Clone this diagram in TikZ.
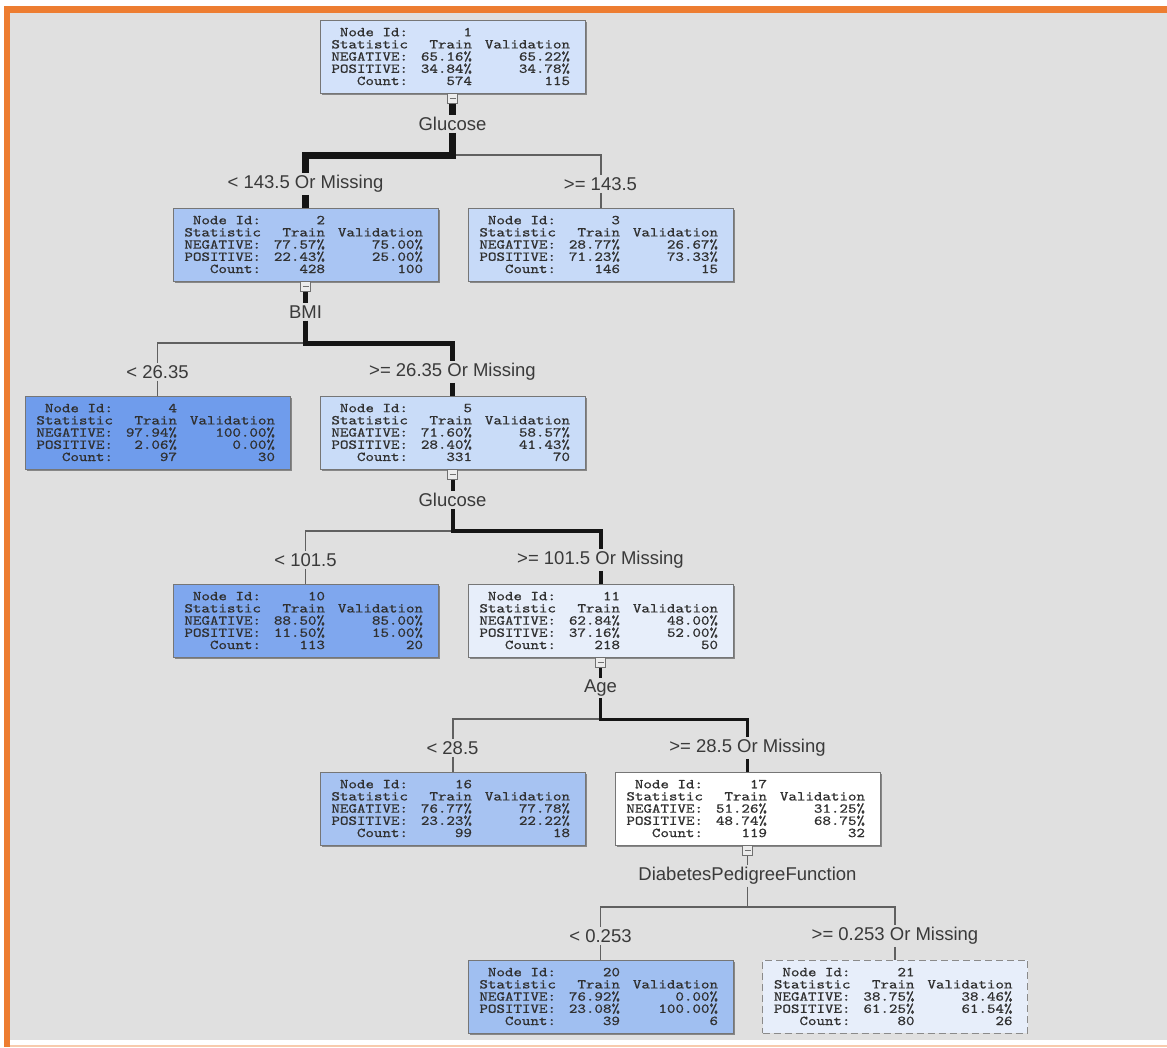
\documentclass[tikz,border=0pt]{standalone}
\usepackage{fontspec}
\setmainfont{Liberation Sans}
\newfontfamily\boxfont[Extension=.otf, FakeStretch=1.2, FakeBold=0.8]{lmmono10-regular}
\usetikzlibrary{shadows}
\definecolor{bg}{HTML}{E0E0E0}
\definecolor{frameorange}{HTML}{ED7D31}
\definecolor{boxline}{HTML}{767676}
\definecolor{dashline}{HTML}{8A8A8A}
\definecolor{boxtext}{HTML}{303030}
\definecolor{labtext}{HTML}{3A3A3A}
\definecolor{sqline}{HTML}{707070}
\definecolor{sqfill}{HTML}{ECECEC}
\definecolor{edgedark}{HTML}{151515}
\definecolor{edgelight}{HTML}{606060}
\definecolor{c1}{HTML}{D3E2FA}
\definecolor{c2}{HTML}{A9C5F3}
\definecolor{c3}{HTML}{C7DAF8}
\definecolor{c4}{HTML}{6F9CEC}
\definecolor{c5}{HTML}{C9DCF8}
\definecolor{c10}{HTML}{7FA7EE}
\definecolor{c11}{HTML}{E7EEFA}
\definecolor{c16}{HTML}{A7C3F2}
\definecolor{c17}{HTML}{FFFFFF}
\definecolor{c20}{HTML}{A0BFF1}
\definecolor{c21}{HTML}{E7EEFA}
\newcommand\tline[3]{\makebox[73pt][r]{#1}\makebox[64pt][r]{#2}\makebox[98pt][r]{#3}}
\newcommand\treebox[9]{\node[#2] (#1) {\tline{Node Id:}{#3}{}\\\tline{Statistic}{Train}{Validation}\\\tline{NEGATIVE:}{#4}{#5}\\\tline{POSITIVE:}{#6}{#7}\\\tline{Count:}{#8}{#9}};}
\tikzset{
  tbox/.style={rectangle, draw=boxline, line width=0.8pt, minimum width=265pt, minimum height=73pt, inner sep=0pt, align=left, text=boxtext, font=\boxfont\fontsize{13.5}{12.2}\selectfont},
  shbox/.style={tbox, drop shadow={shadow xshift=1.5pt, shadow yshift=-1.5pt, fill=black!70, opacity=0.6}},
  dbox/.style={tbox, dash pattern=on 7pt off 4pt, draw=dashline},
  collapse/.style={rectangle, draw=sqline, fill=sqfill, line width=0.8pt, minimum width=10pt, minimum height=10pt, inner sep=0pt, anchor=north},
  split/.style={font=\fontsize{18.5}{20}\selectfont, text=labtext, inner sep=2pt},
  branch/.style={line width=#1, draw=edgedark, line join=miter, line cap=butt},
  minorbranch/.style={line width=#1, draw=edgelight, line join=miter, line cap=butt}
}
\newcommand\collapsemark{\textcolor{sqline}{\rule{6pt}{1.2pt}}}
\begin{document}
\begin{tikzpicture}[x=1pt,y=-1pt]
\path[use as bounding box] (0,0) rectangle (1167,1047);
\fill[white] (0,0) rectangle (1167,1047);
\fill[bg] (10,13) rectangle (1167,1040);
\fill[frameorange] (4,6) rectangle (1167,13);
\fill[frameorange] (4,6) rectangle (10,1047);
\fill[frameorange!40] (10,1045) rectangle (1167,1047);

% boxes
\treebox{n1}{shbox, fill=c1, at={(452.5,56.5)}}{1}{65.16\%}{65.22\%}{34.84\%}{34.78\%}{574}{115}
\treebox{n2}{shbox, fill=c2, at={(305.5,244.5)}}{2}{77.57\%}{75.00\%}{22.43\%}{25.00\%}{428}{100}
\treebox{n3}{shbox, fill=c3, at={(600.5,244.5)}}{3}{28.77\%}{26.67\%}{71.23\%}{73.33\%}{146}{15}
\treebox{n4}{shbox, fill=c4, at={(157.5,432.5)}}{4}{97.94\%}{100.00\%}{2.06\%}{0.00\%}{97}{30}
\treebox{n5}{shbox, fill=c5, at={(452.5,432.5)}}{5}{71.60\%}{58.57\%}{28.40\%}{41.43\%}{331}{70}
\treebox{n10}{shbox, fill=c10, at={(305.5,620.5)}}{10}{88.50\%}{85.00\%}{11.50\%}{15.00\%}{113}{20}
\treebox{n11}{shbox, fill=c11, at={(600.5,620.5)}}{11}{62.84\%}{48.00\%}{37.16\%}{52.00\%}{218}{50}
\treebox{n16}{shbox, fill=c16, at={(452.5,808.5)}}{16}{76.77\%}{77.78\%}{23.23\%}{22.22\%}{99}{18}
\treebox{n17}{shbox, fill=c17, at={(747.5,808.5)}}{17}{51.26\%}{31.25\%}{48.74\%}{68.75\%}{119}{32}
\treebox{n20}{shbox, fill=c20, at={(600.5,996.5)}}{20}{76.92\%}{0.00\%}{23.08\%}{100.00\%}{39}{6}
\treebox{n21}{dbox, fill=c21, at={(895,996.5)}}{21}{38.75\%}{38.46\%}{61.25\%}{61.54\%}{80}{26}

% collapse marks
\node[collapse] (s1) at (n1.south) {\collapsemark};
\node[collapse] (s2) at (n2.south) {\collapsemark};
\node[collapse] (s5) at (n5.south) {\collapsemark};
\node[collapse] (s11) at (n11.south) {\collapsemark};
\node[collapse] (s17) at (n17.south) {\collapsemark};

% split 1
\node[split] (g1) at (452.5,124) {Glucose};
\coordinate (h1) at (452.5,155);
\node[split] (l2) at (305.5,184) {< 143.5 Or Missing};
\node[split] (l3) at (600.5,184) {>= 143.5};
\draw[minorbranch=2pt] (g1.south) -- (h1) -| (l3.north);
\draw[minorbranch=2pt] (l3.south) -- (n3.north);
\draw[branch=7pt] (s1.south) -- (g1.north);
\draw[branch=7pt] (g1.south) -- (h1) -| (l2.north);
\draw[branch=7pt] (l2.south) -- (n2.north);

% split 2
\node[split] (g2) at (305.5,312) {BMI};
\coordinate (h2) at (305.5,343);
\node[split] (l4) at (157.5,372) {< 26.35};
\node[split] (l5) at (452.5,372) {>= 26.35 Or Missing};
\draw[minorbranch=1.5pt] (g2.south) -- (h2) -| (l4.north);
\draw[minorbranch=1.5pt] (l4.south) -- (n4.north);
\draw[branch=5pt] (s2.south) -- (g2.north);
\draw[branch=5pt] (g2.south) -- (h2) -| (l5.north);
\draw[branch=5pt] (l5.south) -- (n5.north);

% split 5
\node[split] (g5) at (452.5,500) {Glucose};
\coordinate (h5) at (452.5,531);
\node[split] (l10) at (305.5,560) {< 101.5};
\node[split] (l11) at (600.5,560) {>= 101.5 Or Missing};
\draw[minorbranch=1.5pt] (g5.south) -- (h5) -| (l10.north);
\draw[minorbranch=1.5pt] (l10.south) -- (n10.north);
\draw[branch=4pt] (s5.south) -- (g5.north);
\draw[branch=4pt] (g5.south) -- (h5) -| (l11.north);
\draw[branch=4pt] (l11.south) -- (n11.north);

% split 11
\node[split] (g11) at (600.5,688) {Age};
\coordinate (h11) at (600.5,719);
\node[split] (l16) at (452.5,748) {< 28.5};
\node[split] (l17) at (747.5,748) {>= 28.5 Or Missing};
\draw[minorbranch=2pt] (g11.south) -- (h11) -| (l16.north);
\draw[minorbranch=2pt] (l16.south) -- (n16.north);
\draw[branch=3pt] (s11.south) -- (g11.north);
\draw[branch=3pt] (g11.south) -- (h11) -| (l17.north);
\draw[branch=3pt] (l17.south) -- (n17.north);

% split 17
\node[split] (g17) at (747.5,876) {DiabetesPedigreeFunction};
\coordinate (h17) at (747.5,907);
\node[split] (l20) at (600.5,936) {< 0.253};
\node[split] (l21) at (895,936) {>= 0.253 Or Missing};
\draw[minorbranch=1.3pt] (g17.south) -- (h17) -| (l20.north);
\draw[minorbranch=1.3pt] (l20.south) -- (n20.north);
\draw[minorbranch=1.6pt] (s17.south) -- (g17.north);
\draw[minorbranch=1.6pt] (g17.south) -- (h17) -| (l21.north);
\draw[minorbranch=1.6pt] (l21.south) -- (n21.north);
\end{tikzpicture}
\end{document}
